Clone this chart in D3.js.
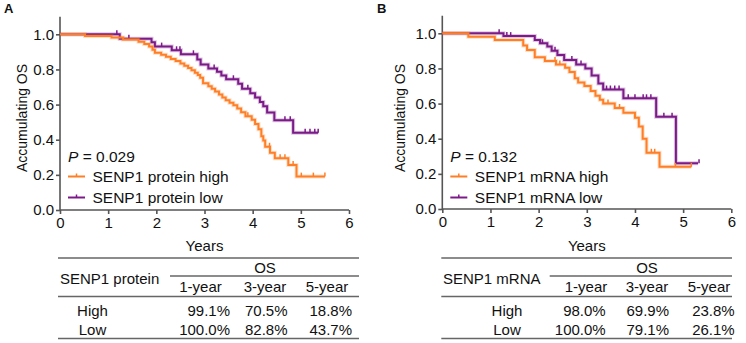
<!DOCTYPE html>
<html><head><meta charset="utf-8">
<script src="https://cdn.jsdelivr.net/npm/d3@7/dist/d3.min.js"></script>
<style>
html,body{margin:0;padding:0;background:#fff;}
svg text{font-family:"Liberation Sans",Arial,sans-serif;fill:#111;}
</style></head>
<body>
<svg id="c" width="746" height="343"></svg>
<script>
// ---------------- DATA ----------------
const years = [0, 1, 2, 3, 4, 5, 6];
const osTicks = [0, 0.2, 0.4, 0.6, 0.8, 1.0];

// Panel A: SENP1 protein
const aHighT = [0, 0.52, 1.07, 1.31, 1.63, 1.75, 1.85, 1.92, 1.97, 2.10, 2.20, 2.30, 2.40, 2.50, 2.58, 2.66, 2.73, 2.80, 2.86, 2.91, 2.97, 3.08, 3.15, 3.22, 3.30, 3.37, 3.44, 3.52, 3.60, 3.68, 3.76, 3.85, 3.98, 4.05, 4.12, 4.18, 4.22, 4.26, 4.36, 4.46, 4.74, 4.91];
const aHighS = [1, 0.991, 0.982, 0.970, 0.958, 0.945, 0.930, 0.912, 0.895, 0.884, 0.872, 0.860, 0.848, 0.834, 0.821, 0.808, 0.795, 0.781, 0.768, 0.752, 0.722, 0.705, 0.690, 0.674, 0.658, 0.641, 0.625, 0.610, 0.596, 0.578, 0.556, 0.534, 0.514, 0.490, 0.460, 0.420, 0.395, 0.360, 0.326, 0.294, 0.256, 0.190];
const aHighEnd = 5.50;
const aHighCensor = [3.90, 4.35, 4.57, 4.67, 4.84, 5.01, 5.26, 5.50];

const aLowT = [0, 1.24, 1.90, 1.97, 2.32, 2.51, 2.85, 2.92, 3.08, 3.26, 3.35, 3.45, 3.70, 3.78, 3.95, 4.05, 4.15, 4.22, 4.30, 4.45, 4.84];
const aLowS = [1, 0.975, 0.955, 0.930, 0.909, 0.886, 0.857, 0.828, 0.806, 0.787, 0.765, 0.744, 0.718, 0.690, 0.665, 0.640, 0.615, 0.590, 0.555, 0.511, 0.440];
const aLowEnd = 5.36;
const aLowCensor = [1.18, 1.43, 2.11, 2.42, 2.49, 2.77, 3.20, 3.60, 3.90, 4.67, 4.78, 5.09, 5.19, 5.29, 5.36];

// Panel B: SENP1 mRNA
const bHighT = [0, 0.54, 1.09, 1.68, 1.76, 1.92, 2.13, 2.36, 2.55, 2.64, 2.75, 2.82, 2.95, 3.08, 3.18, 3.27, 3.34, 3.58, 3.76, 4.00, 4.08, 4.16, 4.24, 4.51];
const bHighS = [1, 0.980, 0.962, 0.930, 0.905, 0.863, 0.842, 0.823, 0.804, 0.780, 0.744, 0.720, 0.700, 0.672, 0.645, 0.622, 0.600, 0.575, 0.548, 0.520, 0.470, 0.400, 0.320, 0.240];
const bHighEnd = 5.17;
const bHighCensor = [2.34, 2.44, 3.44, 3.68, 4.34, 4.41, 4.84, 5.17];

const bLowT = [0, 1.27, 1.92, 2.03, 2.18, 2.27, 2.39, 2.53, 2.78, 2.97, 3.10, 3.24, 3.34, 3.76, 4.44, 4.85];
const bLowS = [1, 0.984, 0.962, 0.943, 0.925, 0.900, 0.877, 0.848, 0.823, 0.800, 0.760, 0.715, 0.680, 0.630, 0.525, 0.260];
const bLowEnd = 5.31;
const bLowCensor = [1.18, 1.34, 1.42, 2.08, 2.34, 2.69, 2.88, 3.41, 3.49, 3.58, 3.67, 3.86, 4.00, 4.17, 4.24, 4.33, 4.60, 4.77, 5.33];

const pA = "0.029", pB = "0.132";
const legendA = ["SENP1 protein high", "SENP1 protein low"];
const legendB = ["SENP1 mRNA high", "SENP1 mRNA low"];

const tableCols = ["1-year", "3-year", "5-year"];
const rowLabels = ["High", "Low"];
const aTableHigh = ["99.1%", "70.5%", "18.8%"];
const aTableLow = ["100.0%", "82.8%", "43.7%"];
const bTableHigh = ["98.0%", "69.9%", "23.8%"];
const bTableLow = ["100.0%", "79.1%", "26.1%"];

// ---------------- DRAW ----------------
const ORANGE = "#ff7f27", PURPLE = "#7b1a88", AXIS = "#555";
const svg = d3.select("#c");

function panel(cfg) {
  const g = svg.append("g");
  const x = d3.scaleLinear().domain([0, 6]).range([cfg.x0, cfg.x1]);
  const y = d3.scaleLinear().domain([0, 1]).range([cfg.y0, cfg.y1]);
  const yTop = y(1.1);

  // panel letter
  g.append("text").attr("x", cfg.letterX).attr("y", 13).attr("font-size", 13)
    .attr("font-weight", "bold").text(cfg.letter);

  // axes
  const ax = g.append("g").attr("transform", `translate(0,${cfg.y0})`)
    .call(d3.axisBottom(x).tickValues(years).tickFormat(d3.format("d")).tickSize(4).tickPadding(3));
  const ay = g.append("g").attr("transform", `translate(${cfg.x0},0)`)
    .call(d3.axisLeft(y).tickValues(osTicks).tickFormat(d3.format(".1f")).tickSize(4).tickPadding(2));
  ay.select(".domain").attr("d", `M0,${cfg.y0}V${yTop}`);
  ax.select(".domain").attr("d", `M${cfg.x0},0H${cfg.x1}`);
  [ax, ay].forEach(a => {
    a.selectAll(".domain,line").attr("stroke", AXIS).attr("stroke-width", 1.6);
    a.selectAll("text").attr("font-size", 15).attr("fill", "#111")
      .attr("font-family", "Liberation Sans, Arial, sans-serif");
  });

  // y title
  g.append("text").attr("transform", `translate(${cfg.yTitleX},${118}) rotate(-90)`)
    .attr("text-anchor", "middle").attr("font-size", 14).text("Accumulating OS");
  // x title
  g.append("text").attr("x", (cfg.x0 + cfg.x1) / 2).attr("y", 251)
    .attr("text-anchor", "middle").attr("font-size", 15).text("Years");

  // curves
  const line = d3.line().x(d => x(d[0])).y(d => y(d[1])).curve(d3.curveStepAfter);
  function curve(T, S, end, cens, color) {
    const pts = T.map((t, i) => [t, S[i]]);
    pts.push([end, S[S.length - 1]]);
    const sAt = t => { let s = S[0]; for (let i = 0; i < T.length; i++) if (T[i] <= t) s = S[i]; return s; };
    g.append("path").attr("d", line(pts)).attr("fill", "none").attr("stroke", color)
      .attr("stroke-opacity", 0.25).attr("stroke-width", 4);
    g.append("path").attr("d", line(pts)).attr("fill", "none").attr("stroke", color)
      .attr("stroke-width", 2);
    g.selectAll(null).data(cens).enter().append("line")
      .attr("x1", d => x(d)).attr("x2", d => x(d))
      .attr("y1", d => y(sAt(d))).attr("y2", d => y(sAt(d)) - 4)
      .attr("stroke", color).attr("stroke-width", 1.5);
  }
  curve(cfg.lowT, cfg.lowS, cfg.lowEnd, cfg.lowC, PURPLE);
  curve(cfg.highT, cfg.highS, cfg.highEnd, cfg.highC, ORANGE);

  // legend
  const lx = cfg.x0 + 8;
  const pt = g.append("text").attr("x", lx).attr("y", 161.5).attr("font-size", 15.5);
  pt.append("tspan").attr("font-style", "italic").text("P");
  pt.append("tspan").text(" = " + cfg.p);
  [[cfg.legend[0], ORANGE, 176.5], [cfg.legend[1], PURPLE, 197.5]].forEach(([lab, col, yy]) => {
    g.append("line").attr("x1", lx).attr("x2", lx + 17).attr("y1", yy).attr("y2", yy)
      .attr("stroke", col).attr("stroke-width", 2);
    g.append("line").attr("x1", lx + 8.5).attr("x2", lx + 8.5).attr("y1", yy).attr("y2", yy - 3)
      .attr("stroke", col).attr("stroke-width", 1.5);
    g.append("text").attr("x", lx + 24.5).attr("y", yy + 5.5).attr("font-size", 15.5).text(lab);
  });

  // table
  const t = cfg.tab;
  const hl = (x1, x2, yy) => g.append("line").attr("x1", x1).attr("x2", x2).attr("y1", yy).attr("y2", yy)
    .attr("stroke", "#666").attr("stroke-width", 1.6);
  hl(t.left, t.right, 258);
  hl(t.osLeft, t.right, 276);
  hl(t.left, t.right, 296.5);
  hl(t.left, t.right, 338.5);
  g.append("text").attr("x", t.osX).attr("y", 273).attr("text-anchor", "middle").attr("font-size", 15).text("OS");
  g.append("text").attr("x", t.labelX).attr("y", 283.5).attr("font-size", 15).text(t.label);
  tableCols.forEach((c, i) => g.append("text").attr("x", t.hdrX[i]).attr("y", 292)
    .attr("text-anchor", "middle").attr("font-size", 15).text(c));
  [[rowLabels[0], t.high, 316], [rowLabels[1], t.low, 335]].forEach(([lab, vals, yy]) => {
    g.append("text").attr("x", t.rowX).attr("y", yy).attr("text-anchor", "middle").attr("font-size", 15).text(lab);
    vals.forEach((v, i) => g.append("text").attr("x", t.valR[i]).attr("y", yy)
      .attr("text-anchor", "end").attr("font-size", 15).text(v));
  });
}

panel({
  letter: "A", letterX: 4, x0: 60, x1: 349, y0: 210, y1: 34.3, yTitleX: 26.5,
  highT: aHighT, highS: aHighS, highEnd: aHighEnd, highC: aHighCensor,
  lowT: aLowT, lowS: aLowS, lowEnd: aLowEnd, lowC: aLowCensor,
  p: pA, legend: legendA,
  tab: { left: 58, right: 359, osLeft: 170, osX: 265, labelX: 60, label: "SENP1 protein",
    hdrX: [200.5, 265, 327], valR: [230, 287.5, 352], rowX: 92.5, high: aTableHigh, low: aTableLow }
});
panel({
  letter: "B", letterX: 377, x0: 442.3, x1: 731.3, y0: 209, y1: 33.3, yTitleX: 405,
  highT: bHighT, highS: bHighS, highEnd: bHighEnd, highC: bHighCensor,
  lowT: bLowT, lowS: bLowS, lowEnd: bLowEnd, lowC: bLowCensor,
  p: pB, legend: legendB,
  tab: { left: 441.3, right: 732, osLeft: 549.7, osX: 647, labelX: 443, label: "SENP1 mRNA",
    hdrX: [586, 647, 709], valR: [605.7, 669, 734.7], rowX: 507, high: bTableHigh, low: bTableLow }
});
</script>
</body></html>
